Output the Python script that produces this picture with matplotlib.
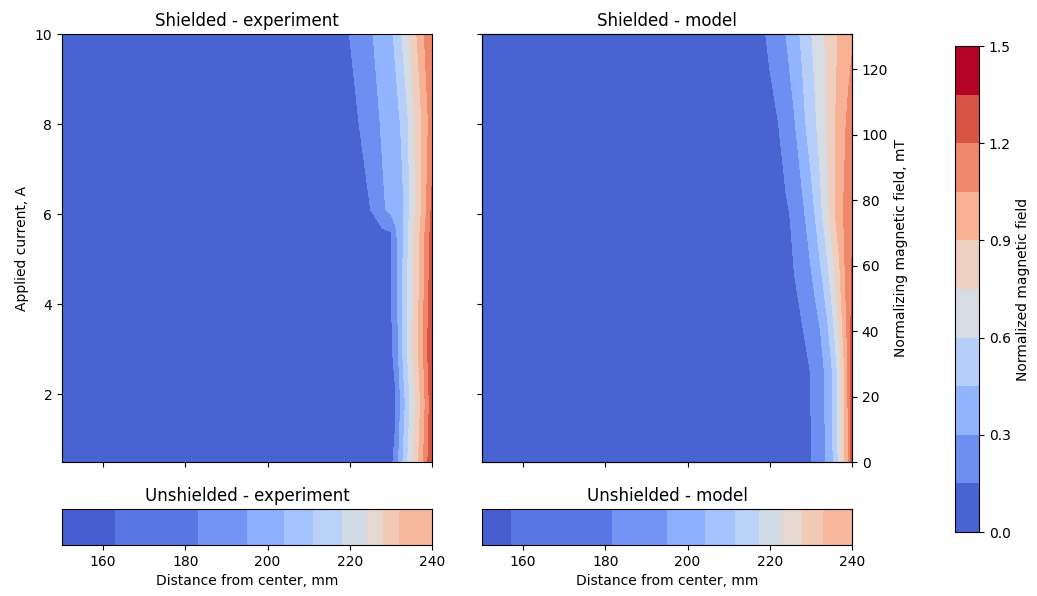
import numpy as np
import matplotlib.pyplot as plt

# contour levels of the normalized field
levels = np.linspace(0, 1.5, 11)

# shielded - experiment
exp_dist = [150, 215, 220, 225, 228, 230, 231, 232, 233, 234, 235, 236, 237, 238, 239, 240]
exp_current = [0.5, 1.8, 3.0, 5.6, 6.1, 8.0, 10.0]
exp_field = [
    [0.01, 0.04, 0.06, 0.09, 0.11, 0.13, 0.17, 0.32, 0.46, 0.59, 0.705, 0.815, 0.93, 1.06, 1.2, 1.3],
    [0.01, 0.04, 0.06, 0.09, 0.11, 0.12, 0.13, 0.25, 0.382, 0.518, 0.646, 0.762, 0.877, 1.0, 1.15, 1.3],
    [0.01, 0.04, 0.06, 0.09, 0.11, 0.135, 0.18, 0.33, 0.475, 0.602, 0.715, 0.825, 0.938, 1.065, 1.21, 1.32],
    [0.01, 0.05, 0.07, 0.10, 0.125, 0.145, 0.25, 0.356, 0.452, 0.575, 0.692, 0.797, 0.891, 1.013, 1.138, 1.26],
    [0.02, 0.07, 0.11, 0.148, 0.275, 0.344, 0.375, 0.406, 0.438, 0.532, 0.654, 0.759, 0.853, 0.963, 1.095, 1.23],
    [0.02, 0.08, 0.10, 0.21, 0.322, 0.378, 0.406, 0.433, 0.485, 0.574, 0.67, 0.767, 0.85, 0.94, 1.04, 1.12],
    [0.02, 0.11, 0.152, 0.282, 0.364, 0.426, 0.467, 0.55, 0.632, 0.711, 0.792, 0.875, 0.958, 1.042, 1.107, 1.17],
]

# shielded - model
model_dist = [150, 215, 218, 220, 222, 224, 226, 228, 230, 231, 232, 233, 234, 235, 236, 237, 238, 239, 240]
model_current = [0.5, 2.5, 3.4, 6.0, 8.0, 10.0]
model_field = [
    [0.01, 0.05, 0.068, 0.08, 0.093, 0.106, 0.12, 0.133, 0.147, 0.184, 0.227, 0.27, 0.325, 0.408, 0.5125, 0.656, 0.844, 1.031, 1.3],
    [0.01, 0.05, 0.07, 0.083, 0.097, 0.11, 0.123, 0.137, 0.151, 0.194, 0.238, 0.282, 0.347, 0.426, 0.5375, 0.683, 0.8625, 1.051, 1.28],
    [0.015, 0.06, 0.079, 0.092, 0.105, 0.118, 0.131, 0.144, 0.193, 0.236, 0.279, 0.339, 0.418, 0.519, 0.641, 0.783, 0.941, 1.0875, 1.25],
    [0.02, 0.089, 0.107, 0.119, 0.128, 0.135, 0.17, 0.269, 0.385, 0.451, 0.533, 0.618, 0.706, 0.80, 0.901, 0.979, 1.056, 1.113, 1.17],
    [0.02, 0.1015, 0.12, 0.133, 0.146, 0.204, 0.2875, 0.406, 0.522, 0.578, 0.6375, 0.70, 0.764, 0.832, 0.901, 0.96, 1.02, 1.073, 1.12],
    [0.02, 0.121, 0.139, 0.161, 0.232, 0.304, 0.39, 0.482, 0.589, 0.6375, 0.684, 0.731, 0.779, 0.827, 0.876, 0.919, 0.956, 0.993, 1.03],
]

# unshielded strips (cell edges in mm and normalized field per cell)
unsh_exp_edges = [150, 163, 183, 195, 204, 211, 218, 224, 228, 232, 240]
unsh_exp_field = [0.06, 0.15, 0.26, 0.37, 0.48, 0.58, 0.69, 0.80, 0.91, 1.0]
unsh_model_edges = [150, 157, 181.6, 195, 204.3, 211.6, 217.3, 222.8, 227.8, 232.9, 240]
unsh_model_field = [0.06, 0.15, 0.26, 0.37, 0.48, 0.58, 0.69, 0.80, 0.91, 1.0]

W, H = 1037, 596
fig = plt.figure(figsize=(W / 100, H / 100), dpi=100)


def px_axes(x0, y0, x1, y1):
    return fig.add_axes([x0 / W, 1 - y1 / H, (x1 - x0) / W, (y1 - y0) / H])


ax1 = px_axes(62, 34, 432, 462)
ax2 = px_axes(482, 34, 852, 462)
ax3 = px_axes(62, 509, 432, 545)
ax4 = px_axes(482, 509, 852, 545)
cax = px_axes(955, 46, 979, 532)

cmap = plt.get_cmap('coolwarm')

cs = ax1.contourf(exp_dist, exp_current, exp_field, levels=levels, cmap=cmap, vmin=0, vmax=1.425)
ax2.contourf(model_dist, model_current, model_field, levels=levels, cmap=cmap, vmin=0, vmax=1.425)

for ax, title in [(ax1, 'Shielded - experiment'), (ax2, 'Shielded - model')]:
    ax.set_xlim(150, 240)
    ax.set_ylim(0.5, 10)
    ax.set_xticks([160, 180, 200, 220, 240])
    ax.set_xticklabels([])
    ax.set_yticks([2, 4, 6, 8, 10])
    ax.set_title(title, fontsize=12)
ax2.set_yticklabels([])
ax1.set_ylabel('Applied current, A', fontsize=10)

tw = ax2.twinx()
tw.set_ylim(0, 130.7)
tw.set_yticks([0, 20, 40, 60, 80, 100, 120])
tw.set_ylabel('Normalizing magnetic field, mT', fontsize=10)

for ax, edges, vals, title in [(ax3, unsh_exp_edges, unsh_exp_field, 'Unshielded - experiment'),
                               (ax4, unsh_model_edges, unsh_model_field, 'Unshielded - model')]:
    ax.pcolormesh(edges, [0, 1], [vals], cmap=cmap, vmin=0, vmax=1.5)
    ax.set_xlim(150, 240)
    ax.set_ylim(0, 1)
    ax.set_yticks([])
    ax.set_xticks([160, 180, 200, 220, 240])
    ax.set_title(title, fontsize=12)
    ax.set_xlabel('Distance from center, mm', fontsize=10)

cb = fig.colorbar(cs, cax=cax, ticks=[0.0, 0.3, 0.6, 0.9, 1.2, 1.5])
cb.set_label('Normalized magnetic field', fontsize=10)

fig.savefig('out.png', dpi=100)
